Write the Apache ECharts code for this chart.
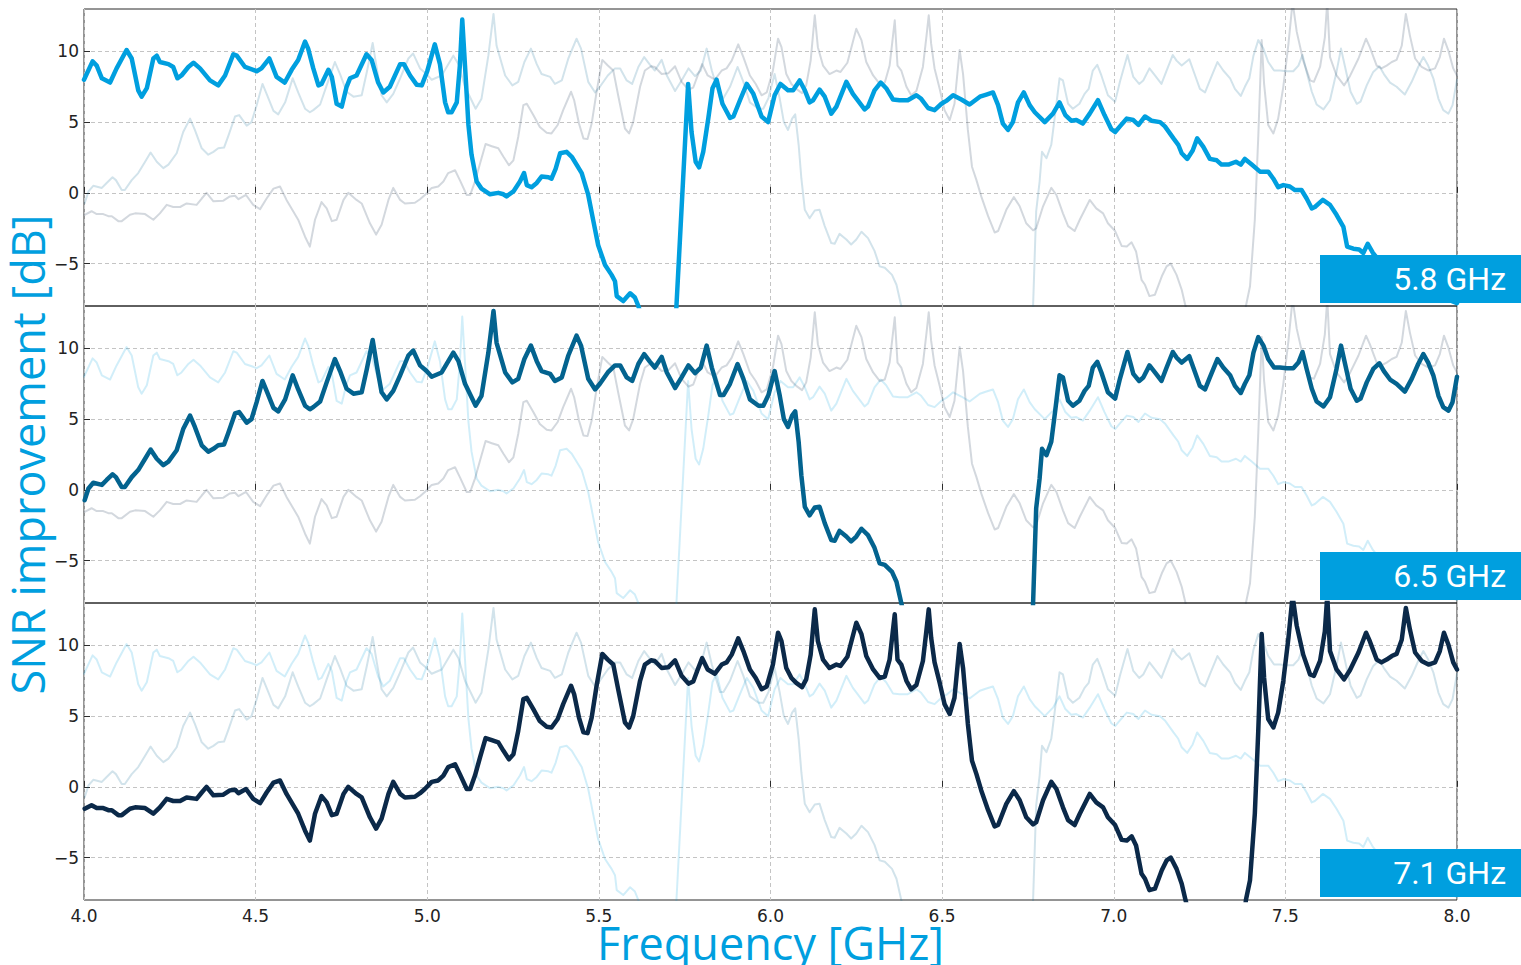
<!DOCTYPE html>
<html>
<head>
<meta charset="utf-8">
<script src="https://cdn.jsdelivr.net/npm/echarts@6/dist/echarts.min.js"></script>
<style>
html,body{margin:0;padding:0;background:#fff;}
#chart{width:1521px;height:965px;}
</style>
</head>
<body>
<div id="chart"></div>
<script>
// ---- data: [frequency GHz, SNR improvement dB] ----
const seriesNames = ['5.8 GHz', '6.5 GHz', '7.1 GHz'];
const xTicks = [4.0, 4.5, 5.0, 5.5, 6.0, 6.5, 7.0, 7.5, 8.0];
const yTicks = [-5, 0, 5, 10];

const snr58 = [[4.000,8.0],[4.025,9.3],[4.037,9.0],[4.052,8.1],[4.076,7.8],[4.095,8.8],[4.124,10.1],[4.139,9.5],[4.158,7.25],[4.168,6.8],[4.183,7.4],[4.202,9.5],[4.212,9.7],[4.221,9.25],[4.246,9.1],[4.260,8.9],[4.272,8.1],[4.284,8.3],[4.304,8.9],[4.319,9.2],[4.338,8.8],[4.367,7.95],[4.391,7.6],[4.411,8.3],[4.435,9.8],[4.445,9.7],[4.469,8.9],[4.493,8.7],[4.503,8.6],[4.517,8.8],[4.540,9.5],[4.561,8.2],[4.585,7.8],[4.605,8.7],[4.624,9.4],[4.644,10.7],[4.653,10.2],[4.668,8.8],[4.683,7.6],[4.692,7.7],[4.712,8.7],[4.722,8.2],[4.736,6.3],[4.751,6.1],[4.765,7.5],[4.775,8.1],[4.794,8.3],[4.823,9.8],[4.838,9.4],[4.857,7.8],[4.872,7.1],[4.891,7.5],[4.921,9.1],[4.932,9.1],[4.950,8.3],[4.969,7.65],[4.984,7.6],[5.000,8.6],[5.022,10.5],[5.037,9.1],[5.052,6.4],[5.061,5.7],[5.071,5.7],[5.086,6.4],[5.095,9.0],[5.102,12.25],[5.110,9.0],[5.120,4.8],[5.129,2.7],[5.144,0.8],[5.158,0.3],[5.183,-0.1],[5.207,0.0],[5.222,-0.1],[5.231,-0.25],[5.251,0.1],[5.270,0.8],[5.282,1.4],[5.290,0.55],[5.304,0.4],[5.319,0.7],[5.333,1.15],[5.353,1.1],[5.362,1.0],[5.374,1.7],[5.387,2.8],[5.406,2.9],[5.421,2.55],[5.450,1.4],[5.469,-0.15],[5.484,-2.0],[5.498,-3.7],[5.518,-5.1],[5.537,-5.8],[5.547,-6.25],[5.552,-7.3],[5.571,-7.65],[5.591,-7.1],[5.605,-7.4],[5.615,-8.0],[5.640,-10],[5.680,-13],[5.710,-15],[5.726,-8.0],[5.760,7.7],[5.770,4.3],[5.782,2.2],[5.792,1.8],[5.804,2.9],[5.819,5.3],[5.831,7.4],[5.843,8.0],[5.860,6.3],[5.882,5.3],[5.892,5.4],[5.911,6.55],[5.931,7.7],[5.950,7.0],[5.974,5.4],[5.993,5.0],[6.012,6.9],[6.029,7.7],[6.051,7.25],[6.066,7.25],[6.085,7.95],[6.100,7.25],[6.114,6.4],[6.124,6.55],[6.143,7.3],[6.158,6.8],[6.177,5.6],[6.192,6.1],[6.221,7.85],[6.240,7.0],[6.274,5.9],[6.284,6.1],[6.303,7.25],[6.321,7.8],[6.337,7.4],[6.357,6.6],[6.376,6.55],[6.400,6.55],[6.425,6.9],[6.439,6.65],[6.459,6.0],[6.478,5.85],[6.498,6.3],[6.512,6.5],[6.532,6.9],[6.556,6.6],[6.580,6.25],[6.610,6.8],[6.629,6.95],[6.648,7.1],[6.663,6.2],[6.677,4.9],[6.692,4.45],[6.706,5.0],[6.721,6.4],[6.738,7.1],[6.755,6.2],[6.770,5.7],[6.799,5.0],[6.823,5.6],[6.842,6.4],[6.859,5.5],[6.876,5.1],[6.891,5.15],[6.910,4.9],[6.930,5.6],[6.954,6.55],[6.973,5.5],[6.993,4.5],[7.004,4.3],[7.018,4.7],[7.038,5.25],[7.057,5.15],[7.072,4.8],[7.091,5.4],[7.110,5.1],[7.135,5.0],[7.149,4.7],[7.174,3.85],[7.188,3.4],[7.198,2.8],[7.214,2.4],[7.230,3.0],[7.243,3.85],[7.261,3.25],[7.280,2.4],[7.300,2.3],[7.314,2.0],[7.334,2.0],[7.356,2.2],[7.370,2.0],[7.382,2.4],[7.402,2.0],[7.426,1.5],[7.450,1.5],[7.465,1.0],[7.479,0.4],[7.494,0.55],[7.513,0.45],[7.528,0.2],[7.547,0.2],[7.562,-0.4],[7.577,-1.1],[7.586,-1.0],[7.609,-0.5],[7.630,-0.85],[7.649,-1.55],[7.669,-2.4],[7.680,-3.8],[7.698,-3.95],[7.715,-4.0],[7.727,-4.25],[7.740,-3.6],[7.755,-4.25],[7.780,-5.0],[7.850,-6.0],[7.920,-7.0],[8.000,-7.8]];

const snr65 = [[4.002,-0.73],[4.013,0.1],[4.027,0.5],[4.052,0.35],[4.066,0.7],[4.083,1.1],[4.093,0.9],[4.110,0.2],[4.119,0.2],[4.139,0.9],[4.158,1.4],[4.178,2.2],[4.194,2.85],[4.212,2.2],[4.231,1.75],[4.246,2.0],[4.270,2.8],[4.289,4.3],[4.309,5.25],[4.323,4.45],[4.343,3.15],[4.362,2.7],[4.377,2.9],[4.391,3.15],[4.408,3.2],[4.420,4.0],[4.440,5.4],[4.452,5.5],[4.474,4.75],[4.488,5.0],[4.503,6.2],[4.520,7.7],[4.532,7.0],[4.552,5.8],[4.566,5.55],[4.586,6.4],[4.608,8.1],[4.624,7.1],[4.644,5.95],[4.658,5.7],[4.668,5.85],[4.688,6.25],[4.707,7.6],[4.731,9.25],[4.746,8.4],[4.765,7.15],[4.785,6.8],[4.809,6.9],[4.824,8.55],[4.841,10.6],[4.853,8.8],[4.867,6.9],[4.882,6.4],[4.901,7.0],[4.921,8.1],[4.945,9.5],[4.959,9.85],[4.979,8.8],[4.998,8.4],[5.013,8.0],[5.042,8.3],[5.076,9.7],[5.091,9.1],[5.110,7.5],[5.141,5.95],[5.158,6.65],[5.178,9.7],[5.193,12.65],[5.202,10.4],[5.227,8.3],[5.248,7.6],[5.265,7.85],[5.283,9.25],[5.302,10.2],[5.319,9.1],[5.333,8.4],[5.358,8.2],[5.372,7.7],[5.392,7.95],[5.411,9.5],[5.435,10.9],[5.448,10.2],[5.469,7.85],[5.489,7.1],[5.503,7.5],[5.526,8.3],[5.547,8.8],[5.562,8.8],[5.581,7.95],[5.597,7.7],[5.615,8.9],[5.632,9.6],[5.649,9.05],[5.663,8.65],[5.683,9.4],[5.698,8.3],[5.722,7.2],[5.741,7.95],[5.761,8.8],[5.780,8.25],[5.797,8.65],[5.814,10.2],[5.829,8.65],[5.853,6.7],[5.863,6.7],[5.882,7.5],[5.904,8.9],[5.921,7.85],[5.940,6.4],[5.965,5.95],[5.979,5.95],[5.994,6.7],[6.012,8.4],[6.027,6.65],[6.039,5.0],[6.051,4.45],[6.063,5.25],[6.072,5.55],[6.082,3.4],[6.090,1.0],[6.100,-1.2],[6.114,-1.8],[6.129,-1.25],[6.143,-1.2],[6.158,-2.35],[6.177,-3.55],[6.187,-3.6],[6.201,-2.9],[6.221,-3.3],[6.235,-3.65],[6.250,-3.3],[6.265,-2.75],[6.284,-3.2],[6.303,-4.1],[6.318,-5.2],[6.333,-5.3],[6.354,-5.8],[6.367,-6.5],[6.381,-8.0],[6.400,-10],[6.450,-13],[6.600,-15],[6.755,-15],[6.765,-8.0],[6.774,-1.3],[6.784,0.8],[6.791,2.9],[6.804,2.45],[6.818,3.4],[6.830,5.7],[6.842,8.1],[6.852,7.95],[6.867,6.3],[6.881,5.95],[6.900,6.3],[6.915,7.0],[6.927,7.35],[6.939,8.65],[6.952,9.05],[6.964,8.3],[6.983,6.9],[7.004,6.45],[7.018,7.85],[7.040,9.75],[7.057,8.2],[7.074,7.7],[7.086,7.95],[7.104,8.8],[7.120,8.3],[7.139,7.7],[7.154,8.65],[7.172,9.75],[7.183,9.35],[7.198,9.0],[7.220,9.45],[7.237,8.3],[7.251,7.35],[7.266,7.1],[7.280,7.95],[7.302,9.25],[7.319,8.65],[7.339,8.1],[7.353,7.35],[7.370,6.85],[7.382,7.5],[7.395,8.1],[7.407,9.7],[7.421,10.8],[7.436,10.2],[7.450,9.25],[7.467,8.65],[7.484,8.65],[7.504,8.6],[7.523,8.6],[7.538,9.0],[7.550,9.75],[7.562,8.55],[7.577,7.15],[7.591,6.25],[7.611,5.9],[7.630,6.55],[7.649,8.55],[7.662,10.2],[7.674,8.9],[7.690,7.15],[7.708,6.3],[7.719,6.45],[7.737,7.6],[7.756,8.55],[7.774,8.95],[7.787,8.4],[7.805,7.8],[7.824,7.5],[7.848,6.95],[7.868,7.85],[7.887,8.9],[7.902,9.6],[7.916,9.0],[7.931,8.1],[7.946,6.65],[7.960,5.85],[7.975,5.6],[7.987,6.2],[8.000,8.0]];

const snr71 = [[4.002,-1.55],[4.022,-1.3],[4.037,-1.5],[4.056,-1.5],[4.071,-1.65],[4.081,-1.65],[4.100,-2.0],[4.110,-2.0],[4.134,-1.55],[4.149,-1.45],[4.178,-1.5],[4.202,-1.9],[4.221,-1.45],[4.241,-0.85],[4.260,-1.0],[4.280,-1.0],[4.299,-0.75],[4.328,-0.85],[4.343,-0.4],[4.357,0.0],[4.377,-0.6],[4.406,-0.55],[4.425,-0.25],[4.440,-0.2],[4.450,-0.45],[4.472,-0.15],[4.493,-0.85],[4.513,-1.15],[4.532,-0.4],[4.552,0.3],[4.571,0.45],[4.590,-0.5],[4.624,-1.9],[4.644,-3.1],[4.658,-3.8],[4.673,-1.9],[4.692,-0.65],[4.707,-1.1],[4.722,-2.0],[4.736,-1.9],[4.756,-0.5],[4.770,0.0],[4.794,-0.5],[4.809,-0.75],[4.833,-2.15],[4.851,-2.95],[4.867,-2.25],[4.887,-0.5],[4.901,0.35],[4.921,-0.5],[4.935,-0.75],[4.964,-0.7],[4.979,-0.45],[4.993,-0.15],[5.013,0.35],[5.032,0.45],[5.047,0.8],[5.061,1.4],[5.081,1.6],[5.095,0.9],[5.115,-0.15],[5.125,-0.15],[5.139,0.8],[5.154,2.1],[5.170,3.45],[5.188,3.3],[5.207,3.15],[5.222,2.55],[5.238,1.95],[5.251,2.3],[5.265,3.95],[5.280,6.2],[5.290,6.3],[5.309,5.5],[5.328,4.65],[5.348,4.25],[5.362,4.2],[5.380,4.8],[5.396,5.85],[5.419,7.15],[5.428,6.55],[5.442,4.9],[5.455,3.85],[5.467,3.8],[5.479,4.9],[5.494,7.25],[5.510,9.4],[5.526,9.0],[5.542,8.65],[5.557,6.8],[5.576,4.55],[5.588,4.2],[5.600,5.0],[5.620,7.5],[5.634,8.65],[5.652,8.95],[5.663,8.9],[5.683,8.4],[5.702,8.45],[5.722,8.95],[5.741,7.85],[5.761,7.3],[5.775,7.45],[5.788,8.3],[5.801,9.1],[5.817,8.3],[5.838,8.0],[5.858,8.65],[5.872,8.8],[5.887,9.35],[5.906,10.5],[5.921,9.6],[5.940,8.3],[5.957,7.7],[5.974,6.9],[5.989,7.1],[6.007,8.65],[6.022,10.9],[6.032,10.3],[6.046,8.4],[6.061,7.7],[6.075,7.35],[6.092,7.05],[6.104,7.6],[6.117,9.35],[6.129,12.55],[6.138,10.3],[6.153,9.0],[6.172,8.4],[6.192,8.65],[6.204,8.55],[6.224,9.2],[6.250,11.6],[6.265,10.8],[6.279,9.25],[6.299,8.3],[6.318,7.7],[6.333,7.8],[6.347,9.0],[6.362,12.2],[6.370,9.0],[6.381,8.65],[6.396,7.5],[6.410,6.9],[6.425,7.2],[6.444,8.9],[6.454,11.0],[6.461,12.55],[6.468,10.55],[6.478,8.8],[6.493,7.35],[6.507,5.85],[6.522,5.15],[6.536,6.3],[6.551,10.1],[6.561,8.4],[6.575,4.45],[6.587,1.85],[6.600,0.9],[6.614,-0.25],[6.634,-1.65],[6.653,-2.8],[6.663,-2.7],[6.687,-1.2],[6.709,-0.3],[6.726,-0.95],[6.745,-2.15],[6.765,-2.65],[6.774,-2.5],[6.794,-0.95],[6.818,0.35],[6.833,-0.15],[6.852,-1.45],[6.867,-2.35],[6.886,-2.7],[6.901,-1.9],[6.930,-0.5],[6.949,-1.1],[6.969,-1.45],[6.983,-2.15],[7.004,-2.7],[7.023,-3.75],[7.038,-3.8],[7.052,-3.5],[7.065,-4.15],[7.081,-6.15],[7.091,-6.5],[7.104,-7.3],[7.120,-7.2],[7.140,-5.9],[7.154,-5.2],[7.166,-5.0],[7.183,-5.8],[7.198,-6.85],[7.208,-7.9],[7.230,-10],[7.300,-13],[7.370,-12],[7.385,-8.0],[7.397,-6.6],[7.411,-1.9],[7.421,3.95],[7.431,10.8],[7.438,7.7],[7.450,4.8],[7.465,4.2],[7.479,5.25],[7.494,7.5],[7.509,10.55],[7.521,13.5],[7.533,11.4],[7.552,9.35],[7.572,7.95],[7.583,7.85],[7.601,8.9],[7.615,11.0],[7.622,13.5],[7.630,9.6],[7.649,8.3],[7.671,7.6],[7.688,8.25],[7.713,9.5],[7.735,10.9],[7.746,10.3],[7.766,9.0],[7.780,8.8],[7.795,9.0],[7.810,9.25],[7.824,9.4],[7.839,10.4],[7.851,12.65],[7.863,11.1],[7.878,9.5],[7.897,8.9],[7.917,8.65],[7.936,8.8],[7.950,9.6],[7.962,10.9],[7.975,10.05],[7.989,8.8],[8.000,8.3]];

const allData = [snr58, snr65, snr71];
const colors = ['#009fdf', '#03638f', '#0b2949'];
const accent = '#009fdf';

// ---- layout ----
const L = 84, W = 1373, H = 297;
const tops = [9, 306, 603];
const tickFont = 'DejaVu Sans';

const grids = tops.map(t => ({left: L, top: t, width: W, height: H, show: true, borderColor: '#2b2b2b', borderWidth: 1, backgroundColor: 'transparent', containLabel: false, outerBoundsMode: 'none'}));

const fmtY = v => (v < 0 ? '\u2212' + Math.abs(v) : String(v));

const xAxes = tops.map((t, i) => ({
  gridIndex: i, type: 'value', min: 4, max: 8, interval: 0.5,
  axisLine: {show: false},
  axisTick: {show: true, inside: true, length: 6, lineStyle: {color: '#2b2b2b', width: 1}},
  axisLabel: {show: i === 2, formatter: v => v.toFixed(1), fontFamily: tickFont, fontSize: 17, color: '#222', margin: 7},
  splitLine: {show: true, lineStyle: {type: [4, 3], color: '#c4c4c4', width: 1}},
  name: i === 2 ? 'Frequency [GHz]' : '',
  nameLocation: 'middle', nameGap: 29, nameMoveOverlap: false,
  nameTextStyle: {fontFamily: 'Open Sans', fontSize: 45, color: accent, lineHeight: 26}
}));

const yAxes = tops.map((t, i) => ({
  gridIndex: i, type: 'value', min: -8, max: 13, splitNumber: 4,
  axisLine: {show: false},
  axisTick: {show: true, inside: true, length: 6, lineStyle: {color: '#2b2b2b', width: 1}, customValues: yTicks},
  axisLabel: {formatter: fmtY, fontFamily: tickFont, fontSize: 17, color: '#222', margin: 5, customValues: yTicks},
  splitLine: {show: true, lineStyle: {type: [4, 3], color: '#c4c4c4', width: 1}},
  name: i === 1 ? 'SNR improvement [dB]' : '',
  nameLocation: 'middle', nameGap: 42, nameRotate: 90, nameMoveOverlap: false,
  nameTextStyle: {fontFamily: 'Open Sans', fontSize: 45, color: accent, lineHeight: 30}
}));

const series = [];
tops.forEach((t, p) => {
  const order = [0, 1, 2].filter(j => j !== p).concat([p]);
  order.forEach(j => {
    const hl = j === p;
    series.push({
      type: 'line', name: seriesNames[j] + ' / ' + p,
      xAxisIndex: p, yAxisIndex: p,
      data: allData[j],
      showSymbol: false, symbol: 'none', clip: true, silent: true,
      z: hl ? 5 : 2,
      lineStyle: {color: colors[j], width: hl ? 4.5 : 2, opacity: hl ? 1 : 0.18, join: 'round', cap: 'round'},
      emphasis: {disabled: true}
    });
  });
});

const graphics = [];
tops.forEach((t, i) => {
  graphics.push({type: 'rect', left: 1320, top: t + H - 3 - 48, z: 200, zlevel: 1,
    shape: {width: 201, height: 48}, style: {fill: accent}});
  graphics.push({type: 'text', right: 15, top: t + H - 3 - 48 + 8, z: 201, zlevel: 1,
    style: {text: seriesNames[i], fill: '#fff', font: '32px Roboto'}});
});

const chart = echarts.init(document.getElementById('chart'), null, {renderer: 'svg', width: 1521, height: 965});
chart.setOption({
  animation: false,
  backgroundColor: '#fff',
  grid: grids,
  xAxis: xAxes,
  yAxis: yAxes,
  series: series,
  graphic: graphics
});
</script>
</body>
</html>
